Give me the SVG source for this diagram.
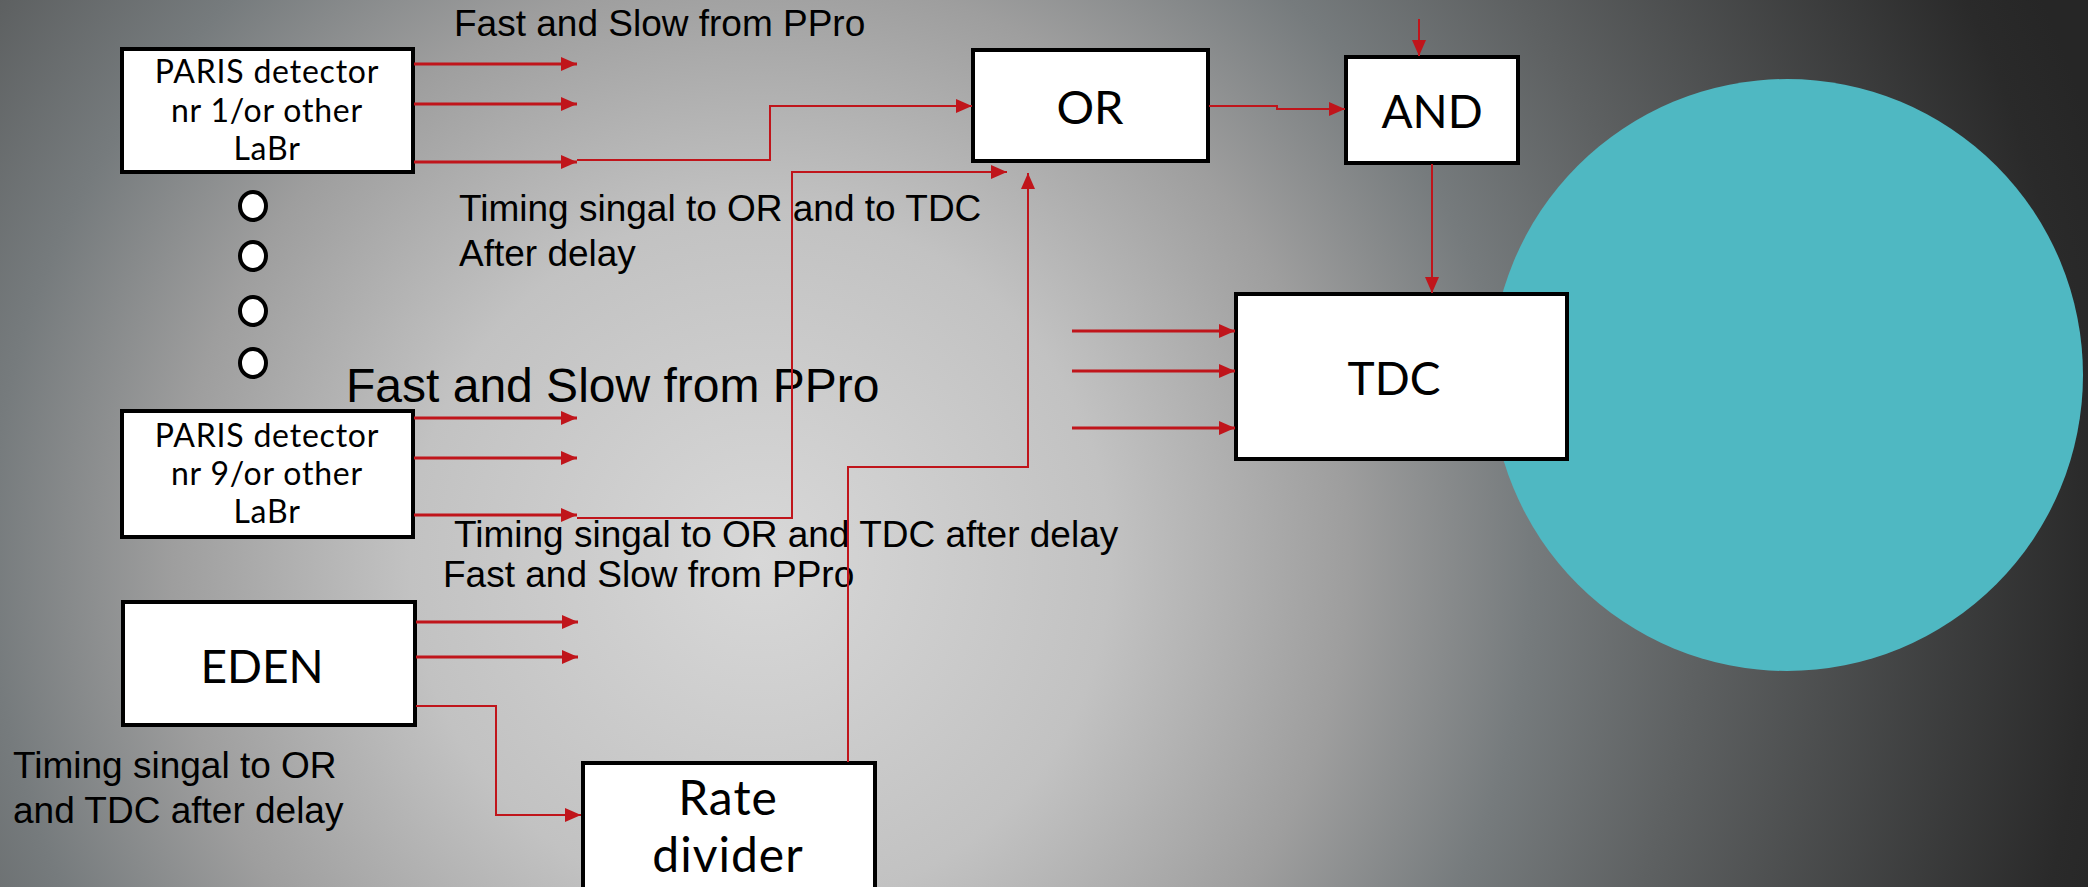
<svg xmlns="http://www.w3.org/2000/svg" width="2088" height="887" viewBox="0 0 2088 887">
  <defs>
    <radialGradient id="bg" gradientUnits="userSpaceOnUse" cx="760" cy="560" r="1400">
      <stop offset="0" stop-color="#d8d8d8"/>
      <stop offset="0.25" stop-color="#c2c2c2"/>
      <stop offset="0.42" stop-color="#9e9e9e"/>
      <stop offset="0.55" stop-color="#767b7d"/>
      <stop offset="0.67" stop-color="#5e6162"/>
      <stop offset="0.95" stop-color="#2a2a2a"/>
      <stop offset="1" stop-color="#262626"/>
    </radialGradient>
    <marker id="arr" markerUnits="userSpaceOnUse" markerWidth="16" markerHeight="14" refX="16" refY="7" orient="auto" viewBox="0 0 16 14">
      <path d="M0,0 L16,7 L0,14 z" fill="#c0151b"/>
    </marker>
  </defs>
  <style>
    .box { fill: #ffffff; stroke: #000000; stroke-width: 4; }
    .ntxt { font-family: Lato, "Liberation Sans", sans-serif; fill: #000000; text-anchor: middle; }
    .lbl { font-family: "Liberation Sans", Arial, sans-serif; fill: #000000; font-size: 37px; }
    .thick { fill: none; stroke: #c0151b; stroke-width: 3; }
    .thin { fill: none; stroke: #c0151b; stroke-width: 2; }
    .dot { fill: #ffffff; stroke: #000000; stroke-width: 4; }
  </style>

  <rect x="0" y="0" width="2088" height="887" fill="url(#bg)"/>
  <circle cx="1787" cy="375" r="296" fill="#4fb8c2"/>

  <g id="labels">
    <text class="lbl" x="454" y="36">Fast and Slow from PPro</text>
    <text class="lbl" x="459" y="221">Timing singal to OR and to TDC</text>
    <text class="lbl" x="459" y="266">After delay</text>
    <text class="lbl" x="346" y="402" style="font-size:48px">Fast and Slow from PPro</text>
    <text class="lbl" x="454" y="547">Timing singal to OR and TDC after delay</text>
    <text class="lbl" x="443" y="587">Fast and Slow from PPro</text>
    <text class="lbl" x="13" y="778">Timing singal to OR</text>
    <text class="lbl" x="13" y="823">and TDC after delay</text>
  </g>

  <g id="dots">
    <ellipse class="dot" cx="253" cy="206" rx="13" ry="14"/>
    <ellipse class="dot" cx="253" cy="256" rx="13" ry="14"/>
    <ellipse class="dot" cx="253" cy="311" rx="13" ry="14"/>
    <ellipse class="dot" cx="253" cy="363" rx="13" ry="14"/>
  </g>

  <g id="paris1">
    <rect class="box" x="122" y="49" width="291" height="123"/>
    <text class="ntxt" x="267" y="83" font-size="32" letter-spacing="0.8">PARIS detector</text>
    <text class="ntxt" x="267" y="122" font-size="32" letter-spacing="0.8">nr 1/or other</text>
    <text class="ntxt" x="267" y="160" font-size="32" letter-spacing="0.8">LaBr</text>
  </g>
  <g id="paris9">
    <rect class="box" x="122" y="411" width="291" height="126"/>
    <text class="ntxt" x="267" y="447" font-size="32" letter-spacing="0.8">PARIS detector</text>
    <text class="ntxt" x="267" y="485" font-size="32" letter-spacing="0.8">nr 9/or other</text>
    <text class="ntxt" x="267" y="523" font-size="32" letter-spacing="0.8">LaBr</text>
  </g>
  <g id="eden">
    <rect class="box" x="123" y="602" width="292" height="123"/>
    <text class="ntxt" x="262" y="683" font-size="46">EDEN</text>
  </g>
  <g id="ratedivider">
    <rect class="box" x="583" y="763" width="292" height="140"/>
    <text class="ntxt" x="728" y="815" font-size="48" letter-spacing="1">Rate</text>
    <text class="ntxt" x="728" y="872" font-size="48" letter-spacing="1">divider</text>
  </g>
  <g id="or">
    <rect class="box" x="973" y="50" width="235" height="111"/>
    <text class="ntxt" x="1090" y="124" font-size="47">OR</text>
  </g>
  <g id="and">
    <rect class="box" x="1346" y="57" width="172" height="106"/>
    <text class="ntxt" x="1432" y="128" font-size="46">AND</text>
  </g>
  <g id="tdc">
    <rect class="box" x="1236" y="294" width="331" height="165"/>
    <text class="ntxt" x="1394" y="395" font-size="46">TDC</text>
  </g>

  <g id="connectors">
    <line class="thick" x1="414" y1="64" x2="577" y2="64" marker-end="url(#arr)"/>
    <line class="thick" x1="414" y1="104" x2="577" y2="104" marker-end="url(#arr)"/>
    <line class="thick" x1="414" y1="162" x2="577" y2="162" marker-end="url(#arr)"/>
    <polyline class="thin" points="577,160 770,160 770,106 972,106" marker-end="url(#arr)"/>

    <line class="thick" x1="414" y1="418" x2="577" y2="418" marker-end="url(#arr)"/>
    <line class="thick" x1="414" y1="458" x2="577" y2="458" marker-end="url(#arr)"/>
    <line class="thick" x1="414" y1="515" x2="577" y2="515" marker-end="url(#arr)"/>
    <polyline class="thin" points="577,518 792,518 792,172 1007,172" marker-end="url(#arr)"/>

    <line class="thick" x1="416" y1="622" x2="578" y2="622" marker-end="url(#arr)"/>
    <line class="thick" x1="416" y1="657" x2="578" y2="657" marker-end="url(#arr)"/>
    <polyline class="thin" points="416,706 496,706 496,815 581,815" marker-end="url(#arr)"/>

    <polyline class="thin" points="848,762 848,467 1028,467 1028,173" marker-end="url(#arr)"/>

    <polyline class="thin" points="1209,106 1277,106 1277,109 1345,109" marker-end="url(#arr)"/>
    <line class="thin" x1="1419" y1="19" x2="1419" y2="56" marker-end="url(#arr)"/>
    <line class="thin" x1="1432" y1="164" x2="1432" y2="293" marker-end="url(#arr)"/>

    <line class="thick" x1="1072" y1="331" x2="1235" y2="331" marker-end="url(#arr)"/>
    <line class="thick" x1="1072" y1="371" x2="1235" y2="371" marker-end="url(#arr)"/>
    <line class="thick" x1="1072" y1="428" x2="1235" y2="428" marker-end="url(#arr)"/>
  </g>
</svg>
